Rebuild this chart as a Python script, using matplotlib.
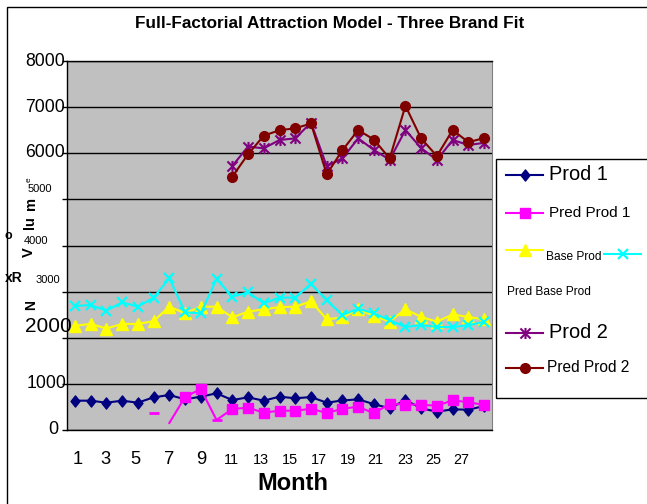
import numpy as np
import matplotlib
matplotlib.use("Agg")
import matplotlib.pyplot as plt
from matplotlib.lines import Line2D
from matplotlib.patches import Rectangle
from matplotlib.path import Path
from matplotlib.transforms import ScaledTranslation

nan = np.nan

# ---- data -------------------------------------------------------------
months = np.arange(1, 28)

prod1 = [636, 636, 592, 636, 592, 708, 759, 665, 723, 795, 650, 708, 636,
         723, 687, 715, 592, 640, 665, 560, 470, 650, 470, 397, 448, 440, 520]

pred_prod1 = [nan, nan, nan, nan, nan, 369, 152, 715, 889, 217, 455, 484, 376,
              419, 419, 460, 370, 460, 506, 361, 570, 550, 550, 525, 643, 603, 542]

base_prod = [2260, 2300, 2200, 2300, 2300, 2360, 2674, 2530, 2674, 2674, 2443,
             2565, 2616, 2665, 2672, 2790, 2400, 2440, 2620, 2475, 2349, 2620,
             2450, 2349, 2505, 2450, 2400]

pred_base_prod = [2688, 2710, 2587, 2768, 2674, 2869, 3288, 2551, 2530, 3274,
                  2890, 2985, 2746, 2870, 2870, 3170, 2810, 2495, 2630, 2530,
                  2378, 2233, 2276, 2233, 2233, 2270, 2348]

prod2 = [nan] * 10 + [5724, 6143, 6107, 6287, 6323, 6665, 5720, 5890, 6323,
                      6070, 5860, 6504, 6110, 5854, 6287, 6179, 6225]

pred_prod2 = [nan] * 10 + [5492, 5977, 6381, 6500, 6540, 6645, 5545, 6066,
                           6504, 6295, 5887, 7028, 6320, 5940, 6504, 6240, 6330]

y_ticks = [0, 1000, 2000, 3000, 4000, 5000, 6000, 7000, 8000]
x_labels = ["1", "3", "5", "7", "9", "11", "13", "15", "17", "19", "21",
            "23", "25", "27"]
x_label_pos = [1.21, 2.91, 4.87, 6.99, 9.01, 10.96, 12.83, 14.65, 16.50,
               18.34, 20.11, 21.96, 23.76, 25.57]

# ---- styling ------------------------------------------------------------
NAVY, MAGENTA, YELLOW, CYAN, PURPLE, MAROON = (
    "#000080", "#FF00FF", "#FFFF00", "#00FFFF", "#800080", "#800000")

plt.rcParams['font.family'] = ['Liberation Sans', 'DejaVu Sans']

W, H = 647, 504


def fx(x):
    return x / W


def fy(y):
    return 1 - y / H


diamond = Path([(0, 1), (0.8, 0), (0, -1), (-0.8, 0), (0, 1)],
               [Path.MOVETO, Path.LINETO, Path.LINETO, Path.LINETO, Path.CLOSEPOLY])
star = Path([(-1, -1), (1, 1), (-1, 1), (1, -1), (0, -1.1), (0, 1.1)],
            [Path.MOVETO, Path.LINETO, Path.MOVETO, Path.LINETO, Path.MOVETO, Path.LINETO])

styles = {
    "Prod 1": dict(color=NAVY, marker=diamond, ms=8),
    "Pred Prod 1": dict(color=MAGENTA, marker="s", ms=6.5),
    "Base Prod": dict(color=YELLOW, marker="^", ms=8),
    "Pred Base Prod": dict(color=CYAN, marker="x", ms=7.5, mew=1.6),
    "Prod 2": dict(color=PURPLE, marker=star, ms=8, mew=1.5, mfc="none"),
    "Pred Prod 2": dict(color=MAROON, marker="o", ms=7),
}
LW = 1.5

fig = plt.figure(figsize=(W / 100, H / 100), dpi=100)
fig.patch.set_facecolor("white")

ax = fig.add_axes([fx(67), fy(430), (492 - 67) / W, (430 - 61) / H])
ax.set_facecolor("#C0C0C0")
ax.set_xlim(0.5, 27.5)
ax.set_ylim(0, 8000)

# ---- series --------------------------------------------------------------
ax.plot(months, prod1, lw=LW, **styles["Prod 1"])

pp1 = np.array(pred_prod1, dtype=float)
ax.plot(months[6:], pp1[6:], lw=LW, color=MAGENTA)
sq_idx = [i for i in range(7, 27) if i != 9]
ax.plot(months[sq_idx], pp1[sq_idx], ls="none", **styles["Pred Prod 1"])
dash_idx = [5, 9]
ax.plot(months[dash_idx], pp1[dash_idx], ls="none", color=MAGENTA,
        marker="_", ms=7, mew=2)

ax.plot(months, base_prod, lw=LW, **styles["Base Prod"])
ax.plot(months, pred_base_prod, lw=LW, **styles["Pred Base Prod"])
ax.plot(months, prod2, lw=LW, **styles["Prod 2"])
ax.plot(months, pred_prod2, lw=LW, **styles["Pred Prod 2"])

# ---- axes ------------------------------------------------------------------
ax.set_yticks(y_ticks)
ax.set_yticklabels([str(v) for v in y_ticks])
ax.yaxis.grid(True, color="black", lw=1)
ax.set_axisbelow(True)
ax.tick_params(axis="y", direction="out", length=5 * 0.72, width=1,
               color="black", pad=-3 * 0.72)

# per-label size and nudge (dx, dy in px)
ylab_fmt = {
    0: (13, -7, 2), 1000: (12.7, 2, 2), 2000: (15, 7, 13), 3000: (8, -5, 13),
    4000: (8, -17, 6), 5000: (8, -13, 11), 6000: (12.7, 0, 3),
    7000: (12.7, 0, 2), 8000: (12.7, 0, 2),
}
for v, lab in zip(y_ticks, ax.get_yticklabels()):
    size, dx, dy = ylab_fmt[v]
    lab.set_fontsize(size)
    lab.set_transform(lab.get_transform() +
                      ScaledTranslation(dx / 100, dy / 100, fig.dpi_scale_trans))

ax.set_xticks(x_label_pos)
ax.set_xticklabels(x_labels)
ax.tick_params(axis="x", length=0, pad=30 * 0.72)
for i, lab in enumerate(ax.get_xticklabels()):
    lab.set_fontsize(13.2 if i < 5 else 10.4)
    lab.set_va("center")

ax.set_xlabel("Month", fontsize=17, fontweight="bold")
ax.xaxis.set_label_coords((293 - 67) / 425, (430 - 483) / 369)
ax.xaxis.label.set_va("center")

for side in ("left", "bottom", "top"):
    ax.spines[side].set_color("black")
    ax.spines[side].set_linewidth(1)
ax.spines["right"].set_color("#808080")

# ---- title and scattered y-axis caption ----------------------------------
fig.text(fx(330), fy(24), "Full-Factorial Attraction Model - Three Brand Fit",
         ha="center", va="center", fontsize=12.3, fontweight="bold")

caption_bits = [
    # text, x, y, size, rotation, weight
    ("V", 29, 252, 10.5, 90, "bold"),
    ("lu", 30, 223, 10.5, 90, "bold"),
    ("m", 31, 203, 10.5, 90, "bold"),
    ("e", 29, 180, 6, 90, "normal"),
    ("o", 8, 236, 9, 0, "bold"),
    ("xR", 14, 278, 10, 0, "bold"),
    ("N", 31, 305, 10, 90, "bold"),
]
for txt, x, y, size, rot, weight in caption_bits:
    fig.text(fx(x), fy(y), txt, rotation=rot, ha="center", va="center",
             fontsize=size, fontweight=weight)

# ---- outer frame -----------------------------------------------------------
fig.add_artist(Rectangle((fx(7), fy(520)), fx(700) - fx(7), (520 - 7) / H,
                         transform=fig.transFigure, fill=False, ec="black",
                         lw=1, clip_on=False))

# ---- legend box -----------------------------------------------------------
fig.add_artist(Rectangle((fx(496), fy(398)), fx(700) - fx(496), (398 - 159) / H,
                         transform=fig.transFigure, fill=False, ec="black",
                         lw=1, clip_on=False))


def legend_handle(name, x0, x1, y):
    st = dict(styles[name])
    color = st.pop("color")
    fig.add_artist(Line2D([fx(x0), fx(x1)], [fy(y), fy(y)],
                          transform=fig.transFigure, color=color, lw=LW))
    fig.add_artist(Line2D([fx((x0 + x1) / 2)], [fy(y)], transform=fig.transFigure,
                          color=color, ls="none", **st))


legend_rows = [
    # name, handle y, text x, text y, font size
    ("Prod 1", 175, 549, 175, 14.4),
    ("Pred Prod 1", 213, 549, 213, 11),
    ("Base Prod", 250, 546, 257, 8.6),
    ("Prod 2", 333, 549, 333, 14.4),
    ("Pred Prod 2", 368, 547, 368, 11.2),
]
for name, hy, tx, ty, fs in legend_rows:
    legend_handle(name, 506, 543, hy)
    fig.text(fx(tx), fy(ty), name, ha="left", va="center", fontsize=fs)

legend_handle("Pred Base Prod", 604, 641, 254)
fig.text(fx(507), fy(292), "Pred Base Prod", ha="left", va="center",
         fontsize=8.6)

fig.savefig("out.png", dpi=100)
